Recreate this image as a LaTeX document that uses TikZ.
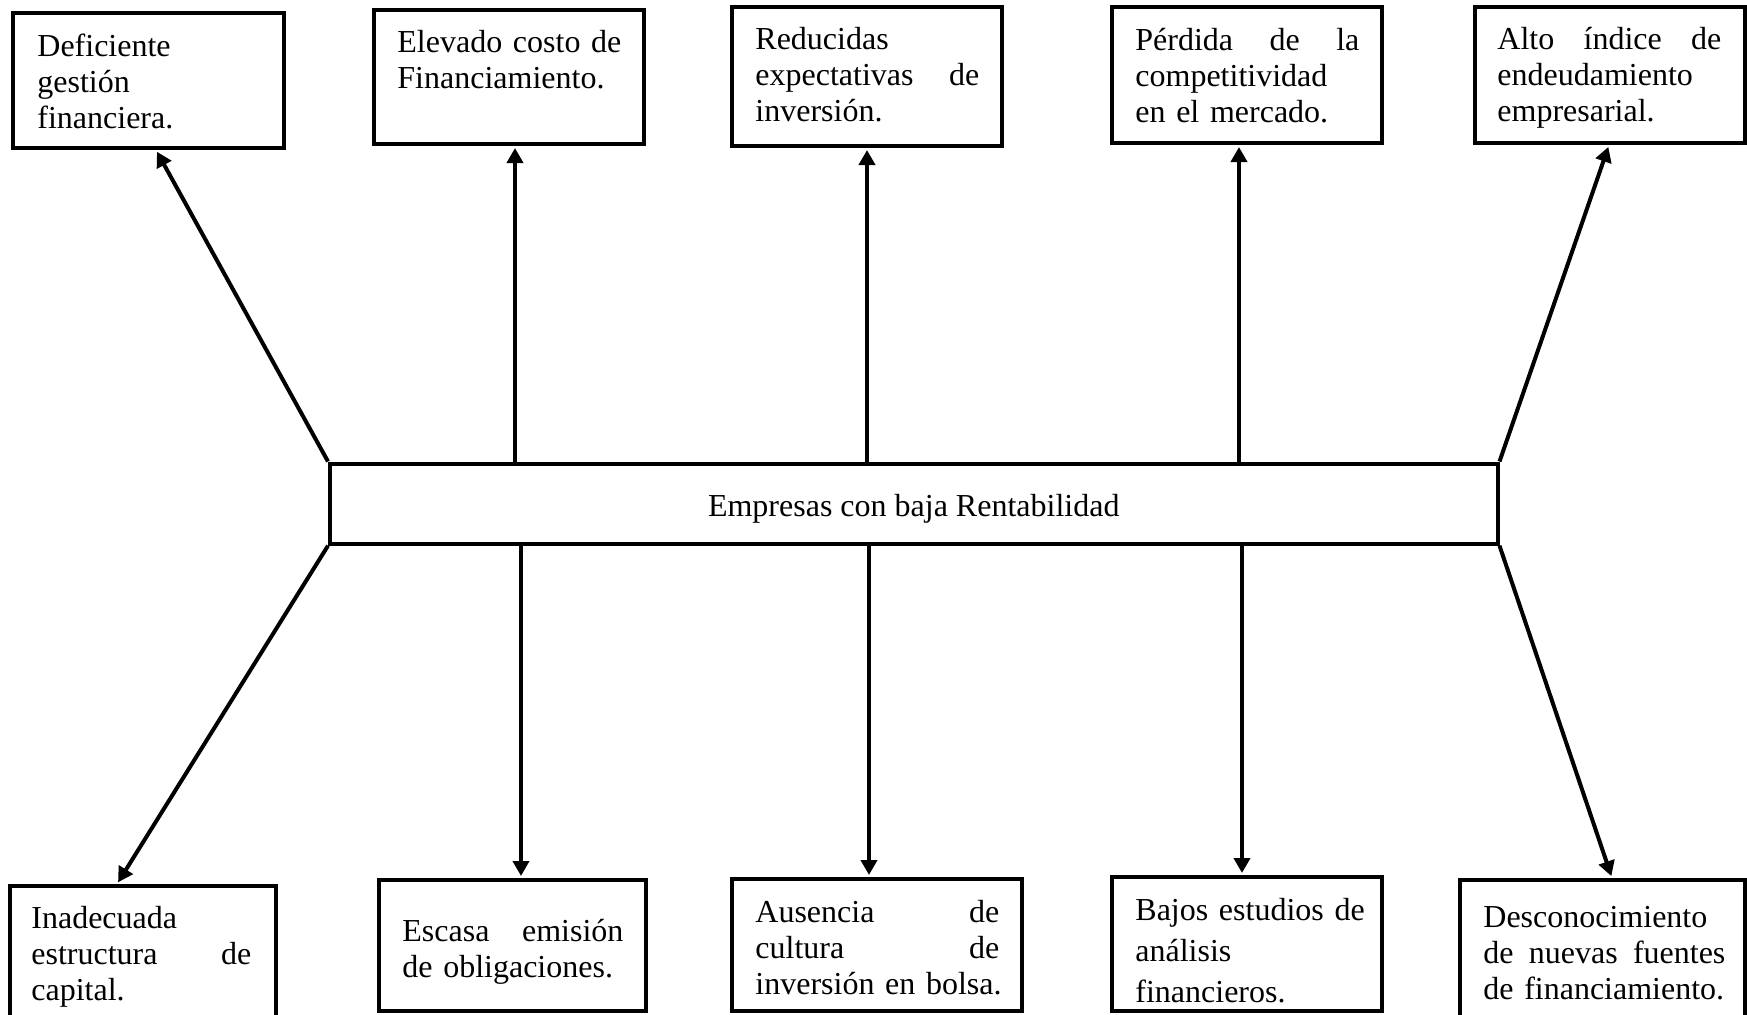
\documentclass[tikz,border=0pt]{standalone}
\usepackage{fontspec}
\setmainfont{Liberation Serif}
\usetikzlibrary{arrows.meta,calc}
\begin{document}
\begin{tikzpicture}[x=0.5pt,y=-0.5pt,
  box/.style={draw=black,line width=2pt,inner sep=0pt,fill=white},
  txt/.style={anchor=north west,inner sep=0pt,align=left,font=\fontsize{16}{18}\selectfont},
  arr/.style={line width=2pt,shorten >=1pt,-{Triangle[length=7.5pt,width=8pt]}},
]
\useasboundingbox (0,0) rectangle (1747,1014);
\clip (0,0) rectangle (1747,1014);
% top boxes
\node[box,minimum width=135.5pt,minimum height=67.5pt] (t1) at (148.5,80.5) {};
\node[box,minimum width=135pt,minimum height=67pt] (t2) at (509,77) {};
\node[box,minimum width=135pt,minimum height=69.5pt] (t3) at (867,76.5) {};
\node[box,minimum width=135pt,minimum height=68pt] (t4) at (1247,75) {};
\node[box,minimum width=135pt,minimum height=68pt] (t5) at (1610,75) {};
% bottom boxes
\node[box,minimum width=133pt,minimum height=77pt] (b1) at (143,963) {};
\node[box,minimum width=133.5pt,minimum height=65.5pt] (b2) at (512.5,945.5) {};
\node[box,minimum width=145pt,minimum height=66pt] (b3) at (877,945) {};
\node[box,minimum width=135pt,minimum height=67pt] (b4) at (1247,944) {};
\node[box,minimum width=142.5pt,minimum height=80pt] (b5) at (1602.5,960) {};
% central box
\node[box,minimum width=583.75pt,minimum height=40.1pt] (c) at (913.75,503.6) {};
\node[inner sep=0pt,font=\fontsize{16}{18}\selectfont] (cx) at ([yshift=-2.7pt]c.center) {Empresas con baja Rentabilidad};
% texts
\node[txt,text width=112.5pt] (t1x) at (37,31) {\strut Deficiente\\ gestión\\ financiera.};
\node[txt,text width=112pt] (t2x) at (397,27) {\strut Elevado\hfill costo\hfill de\\ Financiamiento.};
\node[txt,text width=112pt] (t3x) at (755,24) {\strut Reducidas\\ expectativas\hfill de\\ inversión.};
\node[txt,text width=112pt] (t4x) at (1135,25) {\strut Pérdida\hfill de\hfill la\\ competitividad\\ \mbox{en el mercado.}};
\node[txt,text width=112pt] (t5x) at (1497,24) {\strut Alto\hfill índice\hfill de\\ endeudamiento\\ empresarial.};
\node[txt,text width=110pt] (b1x) at (31,903) {\strut Inadecuada\\ estructura\hfill de\\ capital.};
\node[txt,text width=110.5pt] (b2x) at (402,916) {\strut Escasa\hfill emisión\\ \mbox{de obligaciones.}};
\node[txt,text width=122pt] (b3x) at (755,897) {\strut Ausencia\hfill de\\ cultura\hfill de\\ \mbox{inversión en bolsa.}};
\node[txt,text width=112pt,font=\fontsize{16}{20.5}\selectfont] (b4x) at (1135,891) {\strut \mbox{Bajos estudios de}\\ análisis\\ financieros.};
\node[txt,text width=121pt] (b5x) at (1483,902) {\strut Desconocimiento\\ de\hfill nuevas\hfill fuentes\\ \mbox{de financiamiento.}};
% connectors
\coordinate (a1) at ([xshift=3.75pt]t1.south);
\coordinate (a2) at ([xshift=3pt]t2.south);
\coordinate (a3) at (t3.south);
\coordinate (a4) at ([xshift=-4pt]t4.south);
\coordinate (a5) at ([xshift=-0.5pt]t5.south);
\draw[arr] (c.north west) -- (a1);
\draw[arr] (c.north -| a2) -- (a2);
\draw[arr] (c.north -| a3) -- (a3);
\draw[arr] (c.north -| a4) -- (a4);
\draw[arr] (c.north east) -- (a5);
\coordinate (e1) at ([xshift=-13pt]b1.north);
\coordinate (e2) at ([xshift=4.25pt]b2.north);
\coordinate (e3) at ([xshift=-4pt]b3.north);
\coordinate (e4) at ([xshift=-2.5pt]b4.north);
\coordinate (e5) at ([xshift=4.75pt]b5.north);
\draw[arr] (c.south west) -- (e1);
\draw[arr] (c.south -| e2) -- (e2);
\draw[arr] (c.south -| e3) -- (e3);
\draw[arr] (c.south -| e4) -- (e4);
\draw[arr] (c.south east) -- (e5);
\end{tikzpicture}
\end{document}
